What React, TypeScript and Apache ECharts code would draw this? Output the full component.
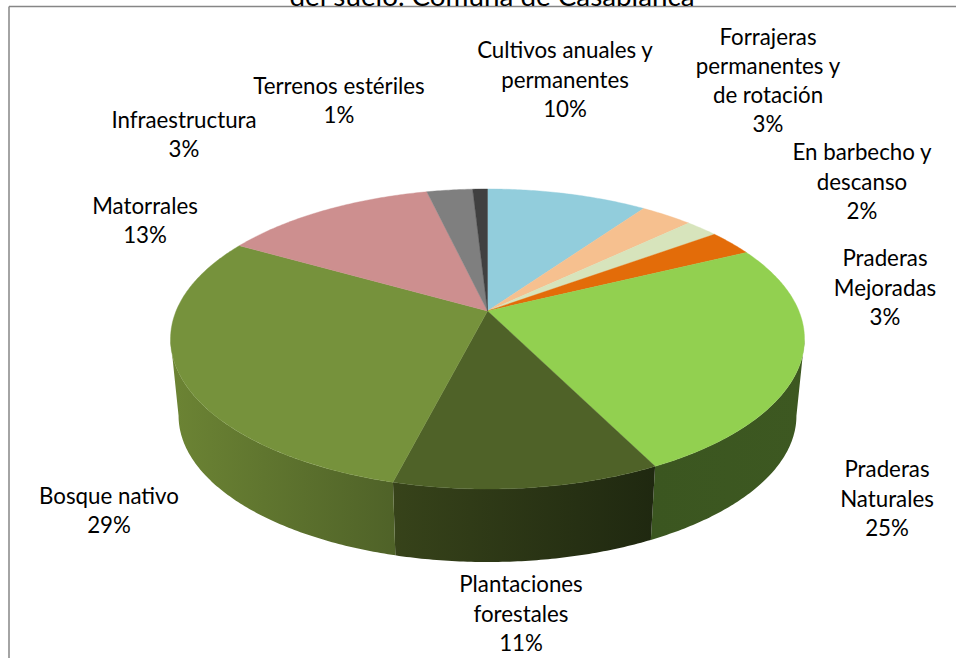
import React, { useEffect, useRef } from "react";
import * as echarts from "echarts";

const titleText = "del suelo. Comuna de Casablanca";
const categories = [
  "Cultivos anuales y\npermanentes",
  "Forrajeras\npermanentes y\nde rotación",
  "En barbecho y\ndescanso",
  "Praderas\nMejoradas",
  "Praderas\nNaturales",
  "Plantaciones\nforestales",
  "Bosque nativo",
  "Matorrales",
  "Infraestructura",
  "Terrenos estériles",
];
const values = [9.8, 3.2, 2, 2.8, 24.8, 11.4, 29.2, 13.1, 2.8, 0.9];

const topColors = ["#92cddc", "#f6c08f", "#d7e4bc", "#e36c09", "#92d050", "#4f6228", "#76923c", "#cd8f8f", "#7f7f7f", "#404040"];
const wallColors: string[][] = [
  ["#6f9aa5", "#6f9aa5"], ["#b8906b", "#b8906b"], ["#a1ab8d", "#a1ab8d"], ["#aa5107", "#aa5107"],
  ["#3b5620", "#3d5821"], ["#37431a", "#1f2810"], ["#6c8434", "#4f6228"],
  ["#9a6b6b", "#9a6b6b"], ["#5f5f5f", "#5f5f5f"], ["#303030", "#303030"],
];
const labelCenters: number[][] = [
  [565, 79], [768, 80], [862, 181], [885, 287], [887, 498], [521, 613], [109, 510], [145, 220], [184, 134], [339, 100],
];

const cumulative: number[] = [];
values.reduce((acc, v, i) => { cumulative[i] = acc; return acc + v; }, 0);

const CX = 487.5;
const K = 0.1867;
const topPlane = { a: 311.4, b: 144.8, hy: 311 };
const basePlane = { a: 303.5, b: 141.2, hy: 388.4 };
// The side wall is only seen between the two silhouette points of the disc.
const WALL_FROM = 28;
const WALL_TO = 72;
const FONT = "Lato";
const LABEL_SIZE = 22.3;
const LINE_H = 29.3;

function project(pct: number, plane: { a: number; b: number; hy: number }, r = 1) {
  const t = (pct / 100) * Math.PI * 2;
  const u = Math.sin(t) * r;
  const v = -Math.cos(t) * r;
  const d = 1 - K * v;
  return [CX + (plane.a * u) / d, plane.hy + (plane.b * v) / d];
}

function arcPoints(start: number, value: number, plane: { a: number; b: number; hy: number }) {
  const n = Math.max(4, Math.ceil(value * 6));
  const pts: number[][] = [];
  for (let i = 0; i <= n; i++) pts.push(project(start + (value * i) / n, plane));
  return pts;
}

export default function App() {
  const ref = useRef<HTMLDivElement>(null);
  useEffect(() => {
    const chart = echarts.init(ref.current!, undefined, { renderer: "svg" });
    const wallSeries = {
      type: "custom",
      coordinateSystem: "none",
      silent: true,
      z: 1,
      data: values,
      renderItem: (params: any, api: any) => {
        const i = params.dataIndex;
        const from = Math.max(cumulative[i], WALL_FROM);
        const to = Math.min(cumulative[i] + api.value(0), WALL_TO);
        if (to <= from) return null;
        const top = arcPoints(from, to - from, topPlane);
        const base = arcPoints(from, to - from, basePlane).reverse();
        return {
          type: "polygon",
          shape: { points: top.concat(base) },
          style: {
            fill: new echarts.graphic.LinearGradient(0, 0, 1, 0, [
              { offset: 0, color: wallColors[i][0] },
              { offset: 1, color: wallColors[i][1] },
            ]),
          },
        };
      },
    };
    const topSeries = {
      type: "custom",
      coordinateSystem: "none",
      silent: true,
      z: 2,
      data: values,
      renderItem: (params: any, api: any) => {
        const i = params.dataIndex;
        const v = api.value(0);
        const pts = [project(0, topPlane, 0)].concat(arcPoints(cumulative[i], v, topPlane));
        return {
          type: "polygon",
          shape: { points: pts },
          style: { fill: topColors[i], stroke: topColors[i], lineWidth: 0.4 },
        };
      },
    };
    const labels = categories.map((c, i) => ({
      type: "text",
      x: labelCenters[i][0],
      y: labelCenters[i][1],
      z: 10,
      style: {
        text: `${c}\n${Math.round(values[i])}%`,
        fill: "#000000",
        font: `${LABEL_SIZE}px ${FONT}`,
        lineHeight: LINE_H,
        textAlign: "center",
        textVerticalAlign: "middle",
      },
    }));
    chart.setOption({
      animation: false,
      backgroundColor: "#ffffff",
      graphic: [
        {
          type: "text",
          x: 492,
          y: 9,
          z: 10,
          style: {
            text: titleText,
            fill: "#000000",
            font: `27.8px ${FONT}`,
            textAlign: "center",
            textVerticalAlign: "bottom",
          },
        },
        { type: "line", z: 5, shape: { x1: 9, y1: 6.5, x2: 956, y2: 6.5 }, style: { stroke: "#868686", lineWidth: 1.5 } },
        { type: "line", z: 5, shape: { x1: 9, y1: 6.5, x2: 9, y2: 658 }, style: { stroke: "#868686", lineWidth: 1.5 } },
        ...labels,
      ],
      series: [wallSeries, topSeries],
    });
    return () => chart.dispose();
  }, []);
  return <div ref={ref} style={{ position: "fixed", left: 0, top: 0, width: 956, height: 658 }} />;
}
